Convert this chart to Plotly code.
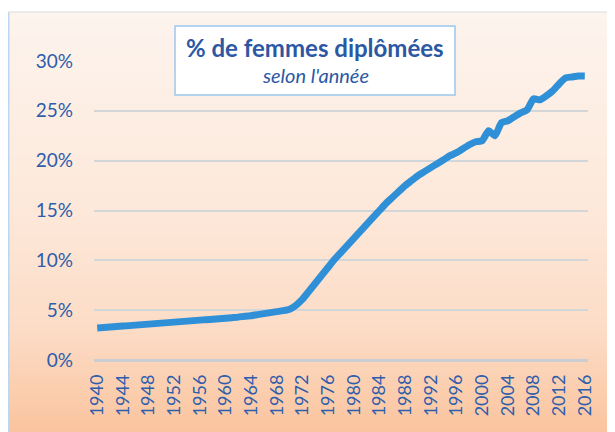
import plotly.graph_objects as go

years = list(range(1940, 2017))
pct_femmes = [
    3.2, 3.25, 3.3, 3.35, 3.4, 3.45, 3.5, 3.55, 3.6, 3.65,
    3.7, 3.75, 3.8, 3.85, 3.9, 3.95, 4.0, 4.05, 4.1, 4.15,
    4.2, 4.25, 4.3, 4.4, 4.45, 4.55, 4.65, 4.75, 4.85, 4.95,
    5.1, 5.5, 6.1, 6.9, 7.7, 8.5, 9.3, 10.1, 10.8, 11.5,
    12.2, 12.9, 13.6, 14.3, 15.0, 15.7, 16.3, 16.9, 17.5, 18.0,
    18.5, 18.9, 19.3, 19.7, 20.1, 20.5, 20.8, 21.2, 21.6, 21.9,
    22.0, 23.0, 22.5, 23.8, 24.0, 24.4, 24.8, 25.1, 26.2, 26.1,
    26.5, 27.0, 27.7, 28.3, 28.4, 28.5, 28.5,
]
y_ticks = [0, 5, 10, 15, 20, 25, 30]
y_labels = ["0%", "5%", "10%", "15%", "20%", "25%", "30%"]
x_ticks = list(range(1940, 2017, 4))
title_main = "% de femmes diplômées"
title_sub = "selon l'année"

OFF = 8  # page body margin
W, H = 615 - OFF, 432 - OFF
# plot area in page coordinates
PL, PR, PT, PB = 94, 588, 61, 360
ML, MR, MT, MB = PL - OFF, W - (PR - OFF), PT - OFF, H - (PB - OFF)
PW = PR - PL
PH = PB - PT

def px(x):
    return (x - PL) / PW

def py(y):
    return (PB - y) / PH

stops = [(12, (253, 244, 238)), (200, (253, 233, 219)), (330, (252, 220, 198)), (432, (250, 196, 158))]

def col_at(y):
    for (y0, c0), (y1, c1) in zip(stops[:-1], stops[1:]):
        if y <= y1:
            t = (y - y0) / (y1 - y0)
            return tuple(round(a + (b - a) * t) for a, b in zip(c0, c1))
    return stops[-1][1]

shapes = []
step = 4
yy = 12
while yy < 432:
    c = col_at(yy + step / 2)
    shapes.append(dict(type="rect", xref="paper", yref="paper", layer="below",
                       x0=px(8.5), x1=px(620), y0=py(yy), y1=py(min(yy + step, 440)),
                       fillcolor="rgb(%d,%d,%d)" % c, line=dict(width=0)))
    yy += step
shapes.append(dict(type="line", xref="paper", yref="paper", layer="below",
                   x0=px(8.7), x1=px(8.7), y0=py(12), y1=py(440),
                   line=dict(color="#bcd6ef", width=1.5)))
shapes.append(dict(type="line", xref="paper", yref="paper", layer="below",
                   x0=px(8), x1=px(620), y0=py(12), y1=py(12),
                   line=dict(color="#dcdcdc", width=1)))
shapes.append(dict(type="rect", xref="paper", yref="paper", layer="above",
                   x0=px(175), x1=px(455), y0=py(26), y1=py(95),
                   fillcolor="white", line=dict(color="#9cc8ee", width=1.5)))

fig = go.Figure()
fig.add_trace(go.Scatter(
    x=years, y=pct_femmes, mode="lines",
    line=dict(color="#2f90d8", width=7, shape="spline", smoothing=0.5),
    hoverinfo="skip",
))

font_blue = "#2d5dab"
fig.update_layout(
    width=W, height=H,
    margin=dict(l=ML, r=MR, t=MT, b=MB, autoexpand=False),
    paper_bgcolor="white",
    plot_bgcolor="rgba(0,0,0,0)",
    showlegend=False,
    shapes=shapes,
    font=dict(family="Lato", color=font_blue),
    annotations=[
        dict(xref="paper", yref="paper", x=px(315), y=py(47), text="<b>" + title_main + "</b>",
             showarrow=False, font=dict(size=24, color="#2c58a3", family="Lato"),
             xanchor="center", yanchor="middle"),
        dict(xref="paper", yref="paper", x=px(315), y=py(75), text="<i>" + title_sub + "</i>",
             showarrow=False, font=dict(size=20, color="#2c58a3", family="Lato"),
             xanchor="center", yanchor="middle"),
    ],
    xaxis=dict(
        range=[1939.5, 2016.5], tickmode="array", tickvals=x_ticks,
        ticktext=[str(v) for v in x_ticks], tickangle=-90,
        tickfont=dict(size=18, color=font_blue, family="Lato"),
        showgrid=False, zeroline=False, showline=False, ticks="",
        ticklabelstandoff=10,
    ),
    yaxis=dict(
        range=[0, 30], tickmode="array", tickvals=y_ticks, ticktext=y_labels,
        tickfont=dict(size=19, color=font_blue, family="Lato"),
        showgrid=True, gridcolor="#d3d6d8", gridwidth=1.5,
        zeroline=True, zerolinecolor="#c9ced3", zerolinewidth=3,
        showline=False, ticks="", ticklabelstandoff=20,
    ),
)

fig.write_html("out.html")
